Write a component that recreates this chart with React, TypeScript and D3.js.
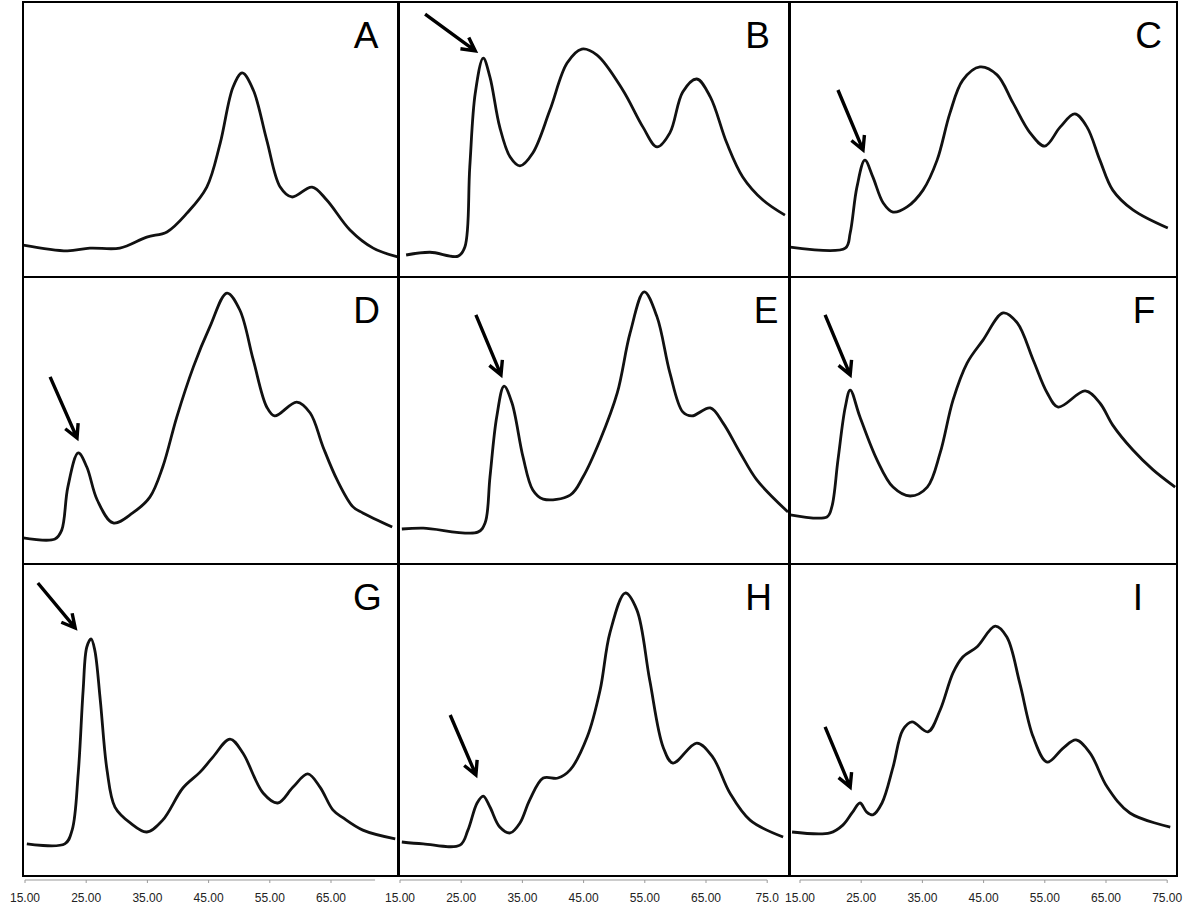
import React from "react";
import * as d3 from "d3";

// ---------- DATA (x: elution time, min; y: relative absorbance, % of panel scale) ----------
const panelNames = ["A", "B", "C", "D", "E", "F", "G", "H", "I"];

const timeA = [14.7, 21.9, 25.6, 30.5, 34.9, 38.2, 41.5, 44.7, 46.9, 49.0, 50.5, 52.3, 54.5, 56.7, 58.6, 61.9, 64.3, 68.1, 71.9, 75.9];
const signalA = [11.6, 9.5, 10.5, 10.5, 14.5, 16.4, 23.3, 32.7, 48.7, 69.1, 74.2, 68.0, 49.8, 32.7, 29.1, 32.7, 28.0, 17.1, 10.5, 7.3];

const timeB = [16.0, 19.9, 24.5, 25.6, 26.4, 27.3, 28.6, 29.7, 31.3, 33.0, 34.6, 36.7, 39.5, 42.3, 44.7, 47.2, 51.4, 54.7, 57.0, 59.1, 61.2, 63.5, 65.7, 68.4, 71.0, 74.3, 77.9];
const signalB = [8.0, 9.0, 7.6, 10.9, 40.0, 66.9, 79.6, 72.7, 54.5, 43.6, 40.4, 45.1, 60.7, 77.8, 82.9, 80.7, 68.0, 54.5, 47.3, 52.4, 67.3, 72.0, 65.5, 48.7, 36.4, 28.0, 22.5];

const timeC = [13.4, 22.4, 23.2, 24.3, 25.6, 26.9, 28.6, 30.2, 32.5, 35.1, 37.4, 39.5, 41.6, 44.4, 47.2, 49.8, 52.6, 55.0, 57.5, 59.9, 61.9, 64.0, 66.1, 69.4, 75.1];
const signalC = [10.9, 10.5, 16.0, 32.7, 42.5, 36.4, 26.9, 23.6, 25.5, 31.6, 42.5, 59.6, 71.6, 76.4, 73.5, 63.3, 52.4, 47.6, 54.5, 59.3, 54.5, 42.5, 31.6, 24.4, 17.8];

const timeD = [14.7, 19.9, 21.0, 22.0, 23.7, 25.1, 26.8, 29.4, 32.6, 35.4, 37.5, 39.8, 42.5, 45.2, 48.0, 50.1, 52.3, 54.5, 55.8, 59.4, 61.6, 63.7, 66.0, 68.6, 70.2, 75.0];
const signalD = [9.1, 8.7, 11.8, 26.8, 38.7, 33.8, 22.3, 14.3, 17.8, 23.3, 33.8, 51.2, 68.6, 82.6, 94.4, 88.5, 71.1, 54.7, 51.6, 56.4, 52.6, 40.8, 29.3, 19.9, 17.8, 12.9];

const timeE = [15.3, 18.8, 27.7, 28.9, 29.7, 30.8, 32.0, 33.3, 35.1, 36.7, 38.4, 42.8, 44.9, 47.7, 50.5, 52.6, 54.9, 57.0, 59.1, 61.2, 62.7, 65.7, 67.8, 70.6, 73.3, 78.4];
const signalE = [12.2, 12.5, 11.1, 14.3, 30.3, 51.2, 62.0, 56.1, 37.3, 25.8, 22.6, 24.0, 30.3, 43.2, 59.6, 80.5, 94.8, 86.1, 66.6, 53.0, 51.6, 54.4, 49.1, 38.7, 29.3, 18.1];

const timeF = [13.4, 19.4, 20.2, 21.2, 22.4, 23.2, 24.8, 27.6, 30.2, 33.0, 35.8, 37.9, 40.0, 42.3, 44.9, 48.2, 50.5, 53.1, 55.4, 57.2, 61.6, 64.0, 66.1, 69.4, 72.7, 76.3];
const signalF = [17.1, 16.4, 19.9, 36.2, 54.7, 60.6, 51.2, 36.2, 26.8, 23.7, 26.8, 38.7, 57.1, 70.0, 78.0, 87.5, 84.0, 71.1, 59.6, 54.7, 60.3, 56.1, 48.4, 39.7, 32.8, 26.8];

const timeG = [15.3, 21.5, 22.7, 23.7, 24.5, 25.1, 25.8, 26.4, 27.3, 28.4, 29.7, 32.2, 34.9, 37.5, 40.8, 43.6, 45.7, 48.5, 50.6, 53.9, 56.3, 58.8, 61.2, 63.2, 65.3, 67.0, 70.2, 75.5];
const signalG = [10.3, 10.3, 14.7, 33.0, 59.6, 73.4, 76.0, 72.4, 56.4, 34.0, 22.1, 17.0, 14.1, 17.9, 28.2, 33.3, 38.1, 43.9, 39.4, 26.6, 23.4, 28.5, 32.7, 28.5, 21.2, 18.6, 14.7, 11.9];

const timeH = [15.3, 18.8, 24.8, 26.1, 27.6, 28.6, 29.7, 31.3, 33.0, 34.6, 36.2, 38.4, 40.8, 42.8, 45.6, 47.7, 49.3, 51.8, 53.7, 55.8, 58.0, 59.6, 63.5, 66.1, 68.9, 72.2, 77.6];
const signalH = [10.9, 10.3, 9.9, 14.7, 23.4, 25.6, 22.1, 15.7, 13.8, 17.0, 24.4, 31.4, 31.4, 34.0, 44.6, 59.6, 77.9, 90.7, 85.3, 62.8, 41.3, 36.2, 42.6, 38.1, 26.6, 17.9, 12.5];

const timeI = [13.7, 19.9, 22.0, 23.5, 24.8, 25.9, 26.9, 28.4, 30.2, 31.8, 33.3, 35.9, 37.9, 40.0, 41.6, 43.9, 46.9, 48.8, 50.9, 53.1, 55.4, 58.0, 60.1, 62.4, 65.2, 68.9, 75.5];
const signalI = [14.1, 13.8, 16.3, 20.2, 23.4, 20.5, 19.6, 23.4, 34.9, 46.8, 49.4, 46.2, 53.2, 65.1, 70.2, 73.4, 80.1, 76.6, 61.9, 44.6, 36.5, 41.0, 43.6, 39.4, 28.5, 20.2, 15.7];

// Arrow annotations: [tail time, tail signal, head time, head signal]
const arrowB = [19.1, 95.6, 27.3, 82.2];
const arrowC = [21.2, 68.0, 25.3, 46.2];
const arrowD = [19.1, 65.2, 23.5, 43.9];
const arrowE = [27.4, 86.8, 31.5, 65.9];
const arrowF = [19.1, 86.8, 23.2, 65.9];
const arrowG = [17.1, 93.9, 23.2, 79.5];
const arrowH = [23.2, 51.6, 27.4, 32.4];
const arrowI = [19.1, 47.8, 23.2, 28.5];

// x-axis ticks per column
const tickValuesCol1 = [15, 25, 35, 45, 55, 65];
const tickLabelsCol1 = ["15.00", "25.00", "35.00", "45.00", "55.00", "65.00"];
const tickValuesCol2 = [15, 25, 35, 45, 55, 65, 75];
const tickLabelsCol2 = ["15.00", "25.00", "35.00", "45.00", "55.00", "65.00", "75.0"];
const tickValuesCol3 = [15, 25, 35, 45, 55, 65, 75];
const tickLabelsCol3 = ["15.00", "25.00", "35.00", "45.00", "55.00", "65.00", "75.00"];
const axisEndCol = [72.2, 75, 75];

// ---------- LAYOUT ----------
const W = 1184;
const H = 908;
const PX_PER_MIN = 6.12;
const colLeft = [23, 399, 790];
const colRight = [398, 789, 1177];
const rowTop = [2, 277, 564];
const rowBottom = [277, 564, 876];
const axisOrigin = [25, 400, 800];
const axisY = 880;
const labelDx = [-32, -31.5, -28.5, -31.5, -23, -33, -30.5, -30.5, -39];

const series = [
  { t: timeA, s: signalA, arrow: null as number[] | null },
  { t: timeB, s: signalB, arrow: arrowB },
  { t: timeC, s: signalC, arrow: arrowC },
  { t: timeD, s: signalD, arrow: arrowD },
  { t: timeE, s: signalE, arrow: arrowE },
  { t: timeF, s: signalF, arrow: arrowF },
  { t: timeG, s: signalG, arrow: arrowG },
  { t: timeH, s: signalH, arrow: arrowH },
  { t: timeI, s: signalI, arrow: arrowI },
];

const axes = [
  { v: tickValuesCol1, l: tickLabelsCol1 },
  { v: tickValuesCol2, l: tickLabelsCol2 },
  { v: tickValuesCol3, l: tickLabelsCol3 },
];

const xScaleFor = (c: number) =>
  d3.scaleLinear().domain([15, 75]).range([axisOrigin[c], axisOrigin[c] + 60 * PX_PER_MIN]);
const yScaleFor = (r: number) => d3.scaleLinear().domain([0, 100]).range([rowBottom[r], rowTop[r]]);

function Arrow({ x1, y1, x2, y2 }: { x1: number; y1: number; x2: number; y2: number }) {
  const ang = Math.atan2(y1 - y2, x1 - x2);
  const len = 15;
  const spread = (28 * Math.PI) / 180;
  const a1x = x2 + len * Math.cos(ang + spread);
  const a1y = y2 + len * Math.sin(ang + spread);
  const a2x = x2 + len * Math.cos(ang - spread);
  const a2y = y2 + len * Math.sin(ang - spread);
  const d = `M${x1},${y1}L${x2},${y2}M${a1x},${a1y}L${x2},${y2}L${a2x},${a2y}`;
  return <path d={d} fill="none" stroke="#000" strokeWidth={3.4} strokeLinejoin="miter" />;
}

export default function App() {
  const font = "'Liberation Sans', Arial, Helvetica, sans-serif";
  return (
    <svg width={W} height={H} style={{ position: "absolute", left: 0, top: 0, background: "#fff" }}>
      <defs>
        {panelNames.map((n, i) => {
          const c = i % 3;
          const r = Math.floor(i / 3);
          return (
            <clipPath id={`clip-${n}`} key={n}>
              <rect x={colLeft[c]} y={rowTop[r]} width={colRight[c] - colLeft[c]} height={rowBottom[r] - rowTop[r]} />
            </clipPath>
          );
        })}
      </defs>
      <rect x={0} y={0} width={W} height={H} fill="#fff" />
      {series.map((sr, i) => {
        const c = i % 3;
        const r = Math.floor(i / 3);
        const x = xScaleFor(c);
        const y = yScaleFor(r);
        const pts: [number, number][] = sr.t.map((t, k) => [t, sr.s[k]]);
        const line = d3
          .line<[number, number]>()
          .x((d) => x(d[0]))
          .y((d) => y(d[1]))
          .curve(d3.curveCatmullRom.alpha(0.5));
        return (
          <g key={panelNames[i]}>
            <path d={line(pts) || ""} fill="none" stroke="#111" strokeWidth={2.8} clipPath={`url(#clip-${panelNames[i]})`} strokeLinejoin="round" />
            {sr.arrow && (
              <Arrow x1={x(sr.arrow[0])} y1={y(sr.arrow[1])} x2={x(sr.arrow[2])} y2={y(sr.arrow[3])} />
            )}
            <text
              x={colRight[c] + labelDx[i]}
              y={rowTop[r] + 46}
              textAnchor="middle"
              fontFamily={font}
              fontSize={37}
              fill="#000"
            >
              {panelNames[i]}
            </text>
            <rect
              x={colLeft[c]}
              y={rowTop[r]}
              width={colRight[c] - colLeft[c]}
              height={rowBottom[r] - rowTop[r]}
              fill="none"
              stroke="#000"
              strokeWidth={2}
            />
          </g>
        );
      })}
      {axes.map((ax, c) => {
        const x = xScaleFor(c);
        return (
          <g key={`axis-${c}`}>
            <line x1={x(15)} x2={x(axisEndCol[c])} y1={axisY} y2={axisY} stroke="#999" strokeWidth={1} />
            {ax.v.map((v, k) => (
              <g key={k}>
                <line x1={x(v)} x2={x(v)} y1={axisY} y2={axisY + 3} stroke="#999" strokeWidth={1} />
                <text x={x(v)} y={902} textAnchor="middle" fontFamily={font} fontSize={12} fill="#222">
                  {ax.l[k]}
                </text>
              </g>
            ))}
          </g>
        );
      })}
    </svg>
  );
}
